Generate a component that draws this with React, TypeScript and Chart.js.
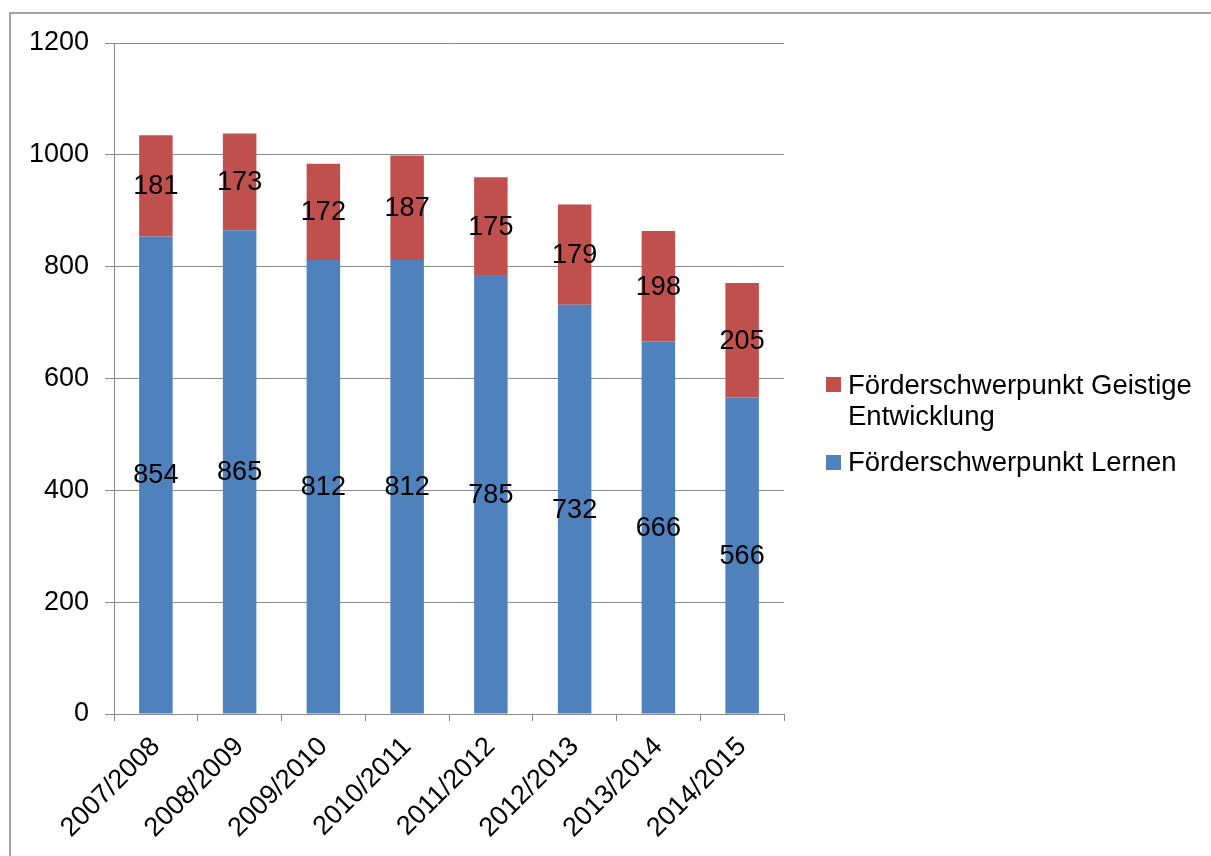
import React, { useEffect, useRef } from "react";
import { Chart, registerables } from "chart.js";

Chart.register(...registerables);

const categories = ["2007/2008", "2008/2009", "2009/2010", "2010/2011", "2011/2012", "2012/2013", "2013/2014", "2014/2015"];
const lernen = [854, 865, 812, 812, 785, 732, 666, 566];
const geistige = [181, 173, 172, 187, 175, 179, 198, 205];
const seriesNames = ["Förderschwerpunkt Lernen", "Förderschwerpunkt Geistige Entwicklung"];
const legendLines = [["Förderschwerpunkt Geistige", "Entwicklung"], ["Förderschwerpunkt Lernen"]];

const BLUE = "#4F81BD";
const RED = "#C0504D";
const GRID = "#8a8a8a";
const FONT = '"Liberation Sans", Arial, sans-serif';
const FS = 27;

export default function App() {
  const ref = useRef<HTMLCanvasElement | null>(null);
  useEffect(() => {
    if (!ref.current) return;
    const framePlugin = {
      id: "frame",
      beforeDraw(chart: any) {
        const ctx = chart.ctx;
        ctx.save();
        ctx.fillStyle = "#ffffff";
        ctx.fillRect(0, 0, chart.width, chart.height);
        ctx.strokeStyle = "#878787";
        ctx.lineWidth = 1.5;
        ctx.strokeRect(10, 13, 1400, 1000);
        ctx.restore();
      },
    };
    const labelsPlugin = {
      id: "valueLabels",
      afterDatasetsDraw(chart: any) {
        const ctx = chart.ctx;
        ctx.save();
        ctx.font = `${FS}px ${FONT}`;
        ctx.fillStyle = "#000";
        ctx.textAlign = "center";
        ctx.textBaseline = "middle";
        chart.data.datasets.forEach((ds: any, i: number) => {
          const meta = chart.getDatasetMeta(i);
          meta.data.forEach((el: any, j: number) => {
            const p = el.getProps(["x", "y", "base"], true);
            ctx.fillText(String(ds.data[j]), p.x, (p.y + p.base) / 2 + 1);
          });
        });
        ctx.restore();
      },
    };
    const legendPlugin = {
      id: "customLegend",
      afterDraw(chart: any) {
        const ctx = chart.ctx;
        ctx.save();
        ctx.font = `27.5px ${FONT}`;
        ctx.fillStyle = "#000";
        ctx.textAlign = "left";
        ctx.textBaseline = "alphabetic";
        const entries = [
          { color: RED, lines: legendLines[0], sq: 377, base: 394 },
          { color: BLUE, lines: legendLines[1], sq: 455, base: 471 },
        ];
        entries.forEach((e) => {
          ctx.fillStyle = e.color;
          ctx.fillRect(826, e.sq, 15, 15);
          ctx.fillStyle = "#000";
          e.lines.forEach((t, k) => ctx.fillText(t, 848, e.base + k * 31));
        });
        ctx.restore();
      },
    };
    const chart = new Chart(ref.current, {
      type: "bar",
      data: {
        labels: categories,
        datasets: [
          { label: seriesNames[0], data: lernen, backgroundColor: BLUE, barPercentage: 0.4, categoryPercentage: 1.0 },
          { label: seriesNames[1], data: geistige, backgroundColor: RED, barPercentage: 0.4, categoryPercentage: 1.0 },
        ],
      },
      options: {
        responsive: false,
        animation: false,
        layout: { padding: { top: 43, right: 427, left: 0, bottom: 0 } },
        plugins: { legend: { display: false }, tooltip: { enabled: false } },
        scales: {
          x: {
            stacked: true,
            grid: { offset: true, drawOnChartArea: false, drawTicks: true, tickLength: 7, color: GRID },
            border: { color: GRID },
            ticks: { minRotation: 45, maxRotation: 45, color: "#000", font: { family: FONT, size: FS }, padding: 10, autoSkip: false },
            afterFit: (s: any) => { s.height = 142; },
          },
          y: {
            stacked: true,
            min: 0,
            max: 1200,
            ticks: { stepSize: 200, color: "#000", font: { family: FONT, size: FS }, padding: 16, callback: (v: any) => String(v) },
            grid: { color: GRID, tickLength: 9, drawTicks: true },
            border: { color: GRID },
            afterFit: (s: any) => { s.width = 114; },
          },
        },
      },
      plugins: [framePlugin, labelsPlugin, legendPlugin],
    });
    return () => chart.destroy();
  }, []);
  return (
    <div style={{ position: "absolute", left: 0, top: 0, width: 1211, height: 856 }}>
      <canvas ref={ref} width={1211} height={856} style={{ display: "block" }} />
    </div>
  );
}
